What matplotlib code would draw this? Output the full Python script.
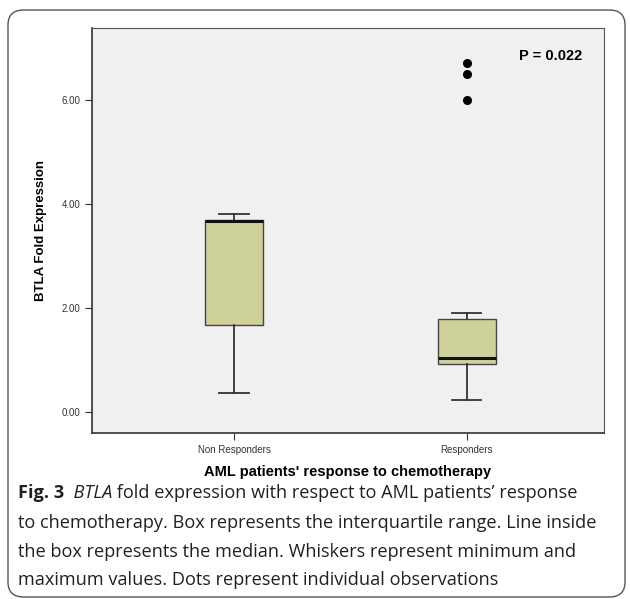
import matplotlib.pyplot as plt
from matplotlib.patches import FancyBboxPatch

# group summaries
groups = ['Non Responders', 'Responders']
q1 = [1.67, 0.92]
median = [3.67, 1.05]
q3 = [3.69, 1.79]
wlo = [0.36, 0.23]
whi = [3.80, 1.90]
outliers = [[], [6.00, 6.50, 6.70]]

yticks = [0, 2, 4, 6]

plt.rcParams['font.family'] = ['Liberation Sans', 'DejaVu Sans']

fig = plt.figure(figsize=(6.30, 5.99), dpi=100)

# outer rounded frame
frame = FancyBboxPatch((8 / 630, 2 / 599), 617 / 630, 587 / 599,
                       boxstyle='round,pad=0,rounding_size=0.025',
                       transform=fig.transFigure, fill=False,
                       edgecolor='#555555', linewidth=1.0)
fig.patches.append(frame)

ax = fig.add_axes([92 / 630, 1 - 433 / 599, 512 / 630, 405 / 599])
ax.set_facecolor('#f0f0f0')

stats = []
for i, g in enumerate(groups):
    stats.append({'label': g, 'q1': q1[i], 'med': median[i], 'q3': q3[i],
                  'whislo': wlo[i], 'whishi': whi[i], 'fliers': outliers[i]})

line = dict(color='#333333', linewidth=1.3)
ax.bxp(stats, positions=[1, 2], widths=0.25, capwidths=0.125, patch_artist=True,
       boxprops=dict(facecolor='#cfd19a', edgecolor='#444444', linewidth=1.0),
       medianprops=dict(color='#111111', linewidth=2.2),
       whiskerprops=line, capprops=line,
       flierprops=dict(marker='o', markerfacecolor='black', markeredgecolor='black',
                       markersize=5.5))

ax.set_xlim(0.39, 2.59)
ax.set_ylim(-0.4, 7.38)
ax.set_yticks(yticks)
ax.set_yticklabels(['%.2f' % v for v in yticks])
ax.set_xticks([1, 2])
ax.set_xticklabels(groups)
ax.tick_params(axis='both', labelsize=7, colors='#333333', length=5, width=0.8,
               direction='out')
for s in ['top', 'right']:
    ax.spines[s].set_color('#555555')
for s in ['left', 'bottom']:
    ax.spines[s].set_color('#333333')
    ax.spines[s].set_linewidth(1.2)

ax.set_ylabel('BTLA Fold Expression', fontsize=9.5, fontweight='bold', labelpad=10)
ax.set_xlabel("AML patients' response to chemotherapy", fontsize=10.5,
              fontweight='bold', labelpad=7)

ax.text(0.958, 0.948, 'P = 0.022', transform=ax.transAxes, ha='right', va='top',
        fontsize=10.5, fontweight='bold')

# caption
cap_font = 'Open Sans'
cap_size = 13.1
cap_col = '#231f20'
x0 = 18 / 630
t1 = fig.text(x0, 1 - 493 / 599, 'Fig. 3', fontsize=cap_size, fontweight='bold',
              family=cap_font, va='center', color=cap_col)
t2 = plt.annotate('  BTLA', xy=(1, 0.5), xycoords=t1, va='center', ha='left',
                  fontsize=cap_size, style='italic', family=cap_font, color=cap_col,
                  annotation_clip=False)
plt.annotate(" fold expression with respect to AML patients\u2019 response",
             xy=(1, 0.5), xycoords=t2, va='center', ha='left', fontsize=cap_size,
             family=cap_font, color=cap_col, annotation_clip=False)
rest = ['to chemotherapy. Box represents the interquartile range. Line inside',
        'the box represents the median. Whiskers represent minimum and',
        'maximum values. Dots represent individual observations']
for yy, s in zip([523, 552, 580], rest):
    fig.text(x0, 1 - yy / 599, s, fontsize=cap_size, family=cap_font,
             va='center', color=cap_col)

fig.savefig('out.png', dpi=100)
